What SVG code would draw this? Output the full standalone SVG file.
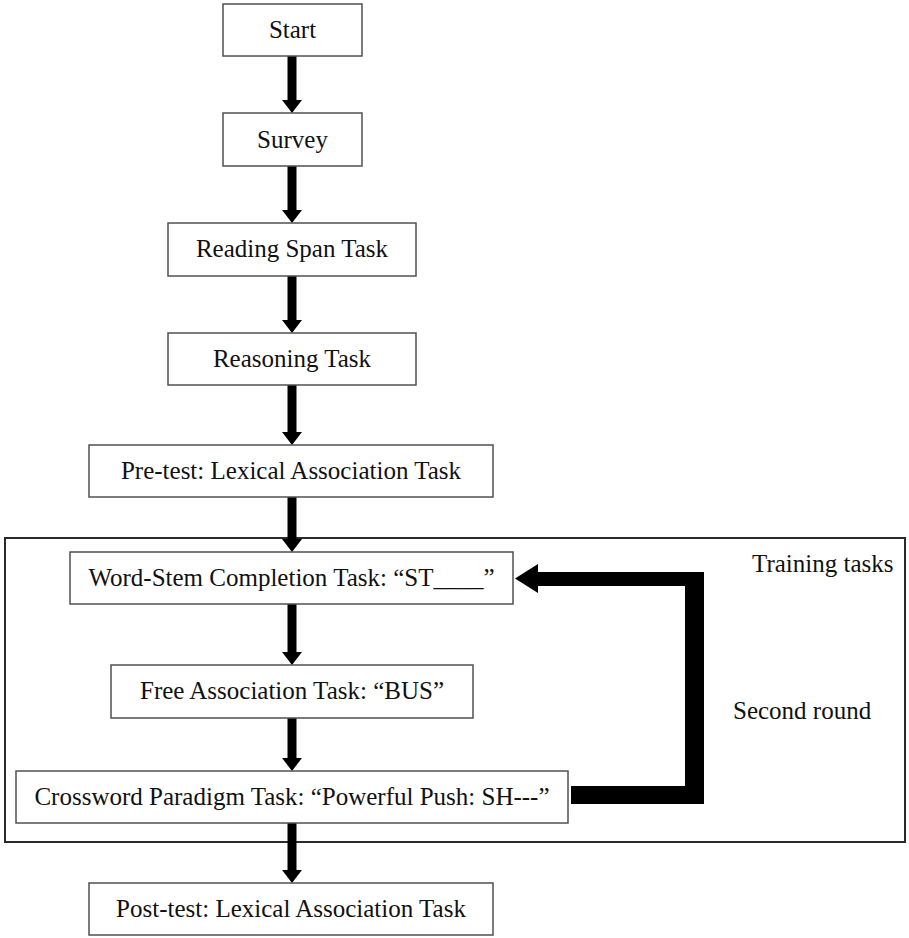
<svg xmlns="http://www.w3.org/2000/svg" width="909" height="938" viewBox="0 0 909 938">
  <style>
    .box { fill: #ffffff; stroke: #505050; stroke-width: 1.5; }
    .lbl { font-family: "Liberation Serif", "Times New Roman", serif; font-size: 25px; fill: #111111; text-anchor: middle; }
    .note { font-family: "Liberation Serif", "Times New Roman", serif; font-size: 25px; fill: #111111; }
    .flow { stroke: #000000; stroke-width: 9; fill: none; marker-end: url(#head); }
  </style>
  <defs>
    <marker id="head" markerUnits="userSpaceOnUse" markerWidth="13" markerHeight="20" viewBox="0 0 13 20" refX="0" refY="10" orient="auto">
      <path d="M0,0 L13,10 L0,20 Z" fill="#000000"/>
    </marker>
  </defs>

  <rect id="white-bg" x="0" y="0" width="909" height="938" fill="#ffffff"/>

  <!-- training block frame -->
  <g id="training-frame">
    <rect x="5" y="538" width="900" height="304" fill="none" stroke="#2a2a2a" stroke-width="2"/>
    <text class="note" x="752" y="572">Training tasks</text>
  </g>

  <!-- connectors -->
  <g id="connectors">
    <line class="flow" x1="292" y1="56" x2="292" y2="100"/>
    <line class="flow" x1="292" y1="166" x2="292" y2="210"/>
    <line class="flow" x1="292" y1="276" x2="292" y2="320"/>
    <line class="flow" x1="292" y1="385" x2="292" y2="432"/>
    <line class="flow" x1="292" y1="497" x2="292" y2="539"/>
    <line class="flow" x1="292" y1="604" x2="292" y2="652"/>
    <line class="flow" x1="292" y1="718" x2="292" y2="758"/>
    <line class="flow" x1="292" y1="823" x2="292" y2="870"/>
    <!-- loop back for the second round -->
    <polygon id="second-round-loop" fill="#000000"
      points="571,786 685,786 685,586 538,586 538,593 515,578.5 538,564 538,572 704,572 704,804 571,804"/>
    <text class="note" x="733" y="719">Second round</text>
  </g>

  <g id="start">
    <rect class="box" x="223" y="4" width="139" height="52"/>
    <text class="lbl" x="292.5" y="38">Start</text>
  </g>
  <g id="survey">
    <rect class="box" x="223" y="113" width="139" height="53"/>
    <text class="lbl" x="292.5" y="148">Survey</text>
  </g>
  <g id="reading-span">
    <rect class="box" x="168" y="223" width="248" height="53"/>
    <text class="lbl" x="292" y="257">Reading Span Task</text>
  </g>
  <g id="reasoning">
    <rect class="box" x="168" y="333" width="248" height="52"/>
    <text class="lbl" x="292" y="367">Reasoning Task</text>
  </g>
  <g id="pre-test">
    <rect class="box" x="89" y="445" width="404" height="52"/>
    <text class="lbl" x="291" y="479">Pre-test: Lexical Association Task</text>
  </g>
  <g id="word-stem">
    <rect class="box" x="70" y="552" width="443" height="52"/>
    <text class="lbl" x="291.5" y="586">Word-Stem Completion Task: “ST____”</text>
  </g>
  <g id="free-association">
    <rect class="box" x="111" y="665" width="362" height="53"/>
    <text class="lbl" x="292" y="699">Free Association Task: “BUS”</text>
  </g>
  <g id="crossword">
    <rect class="box" x="16" y="771" width="552" height="52"/>
    <text class="lbl" x="292" y="805">Crossword Paradigm Task: “Powerful Push: SH---”</text>
  </g>
  <g id="post-test">
    <rect class="box" x="89" y="883" width="404" height="52"/>
    <text class="lbl" x="291" y="917">Post-test: Lexical Association Task</text>
  </g>
</svg>
